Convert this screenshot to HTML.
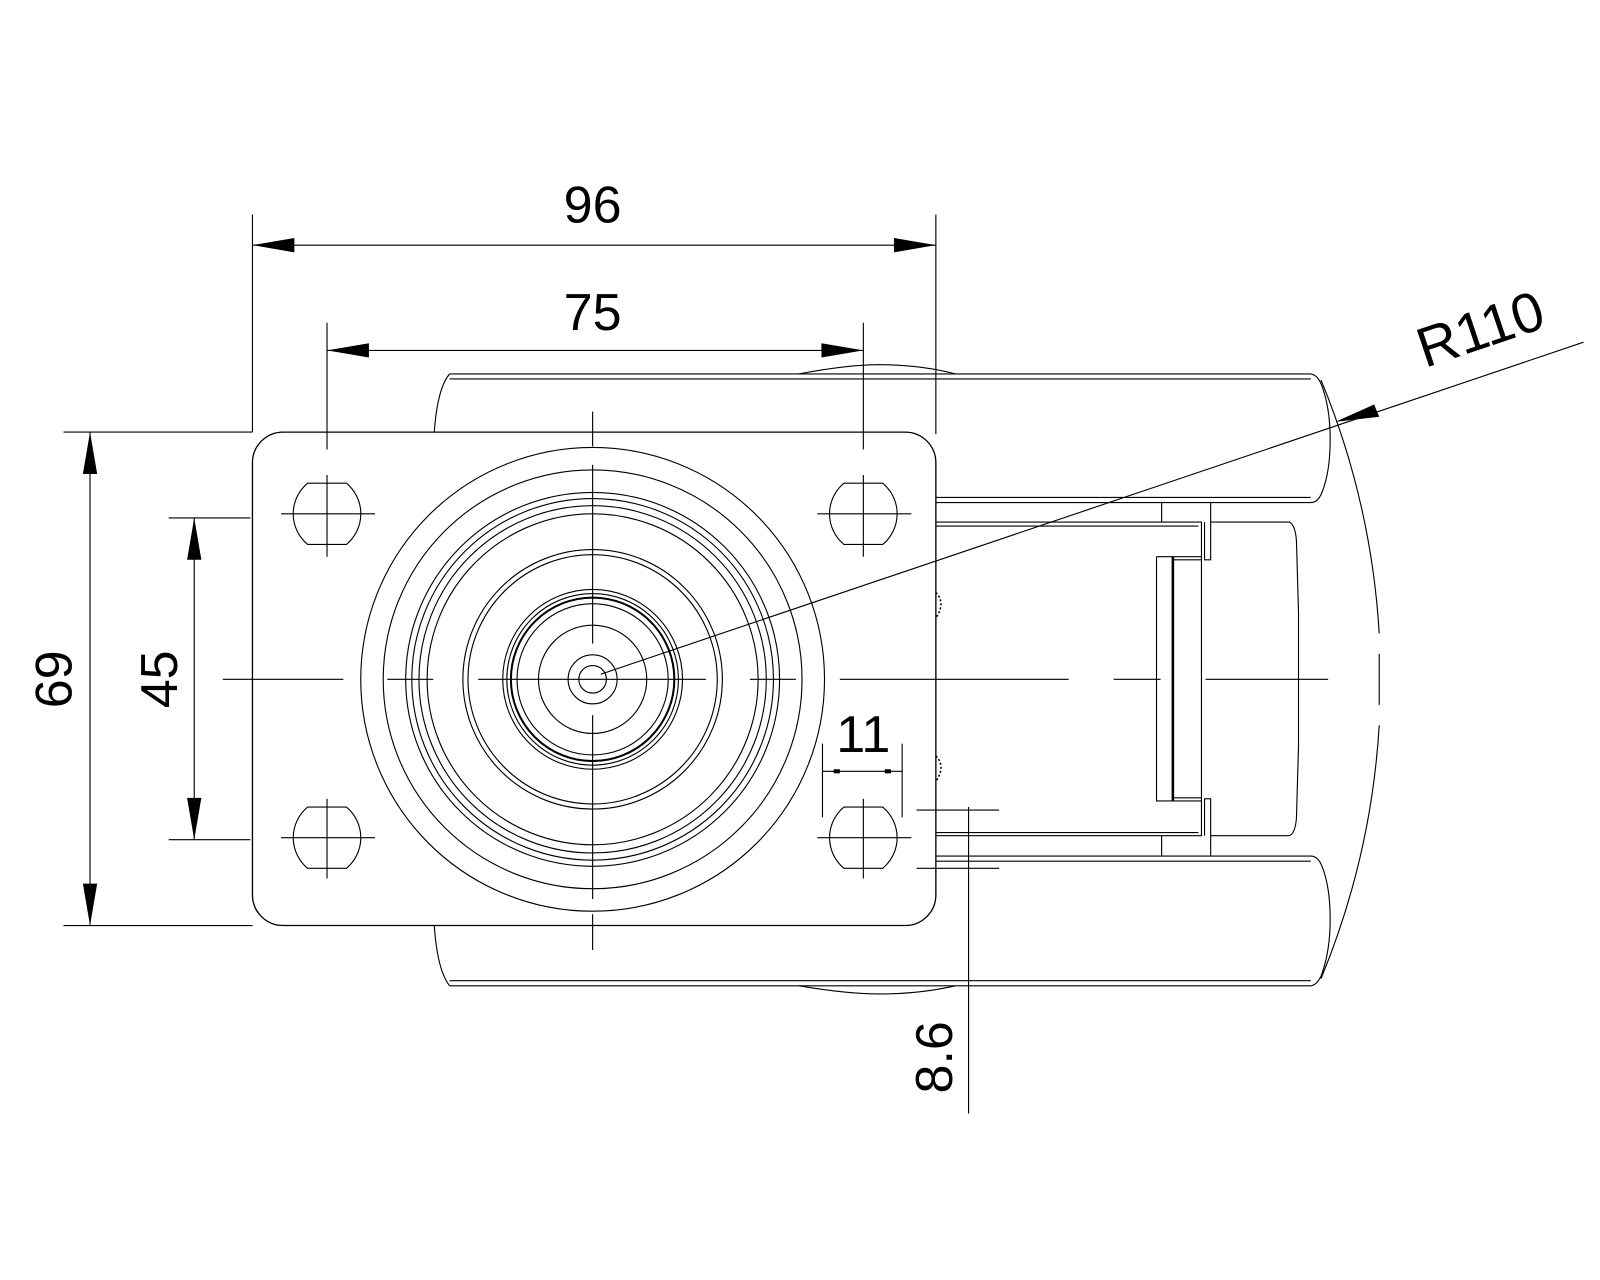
<!DOCTYPE html>
<html><head><meta charset="utf-8"><style>html,body{margin:0;padding:0;background:#fff}svg{display:block}</style></head>
<body>
<svg width="1600" height="1280" viewBox="0 0 1566 1253" xmlns="http://www.w3.org/2000/svg" fill="none" stroke="#000" stroke-width="1.1">
<rect width="1566" height="1253" fill="#fff" stroke="none"/>
<!-- wheel body top bar -->
<path d="M440,366 L1283,366 Q1290,367 1294,378 Q1302,400 1302,430 Q1302,462 1294,482 Q1290,492 1283,492 L916,492"/>
<path d="M440,371 L1283,371"/>
<path d="M916,487 L1283,487"/>
<path d="M440,366 Q428,380 425,423"/>
<path d="M782,366 Q830,357 860,357 Q900,357 935,366"/>
<!-- bottom bar -->
<path d="M440,965 L1283,965 Q1290,964 1294,953 Q1302,930 1302,900 Q1302,868 1294,848 Q1290,838 1283,838 L916,838"/>
<path d="M440,960 L1283,960"/>
<path d="M916,843 L1283,843"/>
<path d="M440,965 Q428,950 425,906"/>
<path d="M782,965 Q830,973 860,973 Q900,973 935,965"/>
<!-- inner fork -->
<path d="M916,511 L1176,511 L1176,818 L916,818"/>
<path d="M916,515 L1173,515 M916,815 L1173,815"/>
<path d="M1137,492 V511 M1185,492 V548 L1179,548 L1179,511 M1137,818 V838 M1185,838 V782 L1179,782 L1179,818"/>
<path d="M1185,511 L1262,511 Q1268,514 1269,530 L1271,600 L1271,730 L1269,800 Q1268,816 1262,818 L1185,818"/>
<path d="M1132,545 H1176 M1132,545 V784 H1176"/>
<path d="M1148,545 V784" stroke-width="2.5"/>
<path d="M1148,548 H1176 M1148,781 H1176"/>
<path d="M916,580 q10,10 0,25 M916,740 q10,10 0,25" stroke-dasharray="2 2" stroke-width="1.5"/>
<!-- R110 arc -->
<path d="M1293,372 A770,770 0 0 1 1350,620" />
<path d="M1350,640 V690"/>
<path d="M1350,710 A770,770 0 0 1 1293,958" />
<!-- plate -->
<rect x="247" y="423" width="669" height="483" rx="30" fill="#fff" stroke-width="1.3"/>
<!-- circles -->
<g>
<circle cx="580" cy="665" r="227"/><circle cx="580" cy="665" r="205"/>
<circle cx="580" cy="665" r="183"/><circle cx="580" cy="665" r="177"/>
<circle cx="580" cy="665" r="170"/><circle cx="580" cy="665" r="162"/>
<circle cx="580" cy="665" r="127"/><circle cx="580" cy="665" r="122"/>
<circle cx="580" cy="665" r="88"/><circle cx="580" cy="665" r="84"/>
<circle cx="580" cy="665" r="80" stroke-width="2"/><circle cx="580" cy="665" r="74"/>
<circle cx="580" cy="665" r="53"/><circle cx="580" cy="665" r="24"/>
<circle cx="580" cy="665" r="13.5"/>
</g>
<!-- holes -->
<g>
<path d="M301,473 H339 A39,39 0 0 1 339,533 H301 A39,39 0 0 1 301,473 Z"/>
<path d="M826,473 H864 A39,39 0 0 1 864,533 H826 A39,39 0 0 1 826,473 Z"/>
<path d="M301,790 H339 A39,39 0 0 1 339,850 H301 A39,39 0 0 1 301,790 Z"/>
<path d="M826,790 H864 A39,39 0 0 1 864,850 H826 A39,39 0 0 1 826,790 Z"/>
<path d="M320,465 V545 M275,503 H367 M845,465 V545 M800,503 H892 M320,782 V860 M275,820 H367 M845,782 V860 M800,820 H892"/>
</g>
<!-- centerlines -->
<path d="M218,665 H336 M379,665 H424 M468,665 H691 M734,665 H779 M822,665 H1046 M1090,665 H1136 M1180,665 H1300"/>
<path d="M580,403 V437 M580,455 V630 M580,700 V880 M580,895 V930"/>
<!-- dims -->
<g stroke-width="1.1">
<path d="M247,210 V423 M916,210 V425 M247,240 H916"/>
<path d="M320,316 V440 M845,316 V440 M320,343 H845"/>
<path d="M62,423 H247 M62,906 H247 M88,423 V906"/>
<path d="M165,507 H245 M165,822 H245 M190,507 V822"/>
<path d="M805,728 V800 M883,728 V800 M805,755 H883"/>
<path d="M897,793 H978 M897,850 H978 M948,790 V1090"/>
<path d="M588,660 L1550,335"/>
</g>
<g fill="#000" stroke="none">
<path d="M247,240 L288,233 L288,247 Z"/><path d="M916,240 L875,233 L875,247 Z"/>
<path d="M320,343 L361,336 L361,350 Z"/><path d="M845,343 L804,336 L804,350 Z"/>
<path d="M88,423 L81,464 L95,464 Z"/><path d="M88,906 L81,865 L95,865 Z"/>
<path d="M190,507 L183,548 L197,548 Z"/><path d="M190,822 L183,781 L197,781 Z"/>
<rect x="816" y="753" width="6" height="4"/><rect x="866" y="753" width="6" height="4"/>
<path d="M1307,413 L1345,396 L1350,408 Z"/>
</g>
<g fill="#000" stroke="none" font-family="Liberation Sans, sans-serif" font-size="51">
<text x="580" y="218" text-anchor="middle">96</text>
<text x="580" y="323" text-anchor="middle">75</text>
<text x="845" y="736" text-anchor="middle">11</text>
<text transform="translate(70,665) rotate(-90)" text-anchor="middle">69</text>
<text transform="translate(173,665) rotate(-90)" text-anchor="middle">45</text>
<text transform="translate(932,1035) rotate(-90)" text-anchor="middle">8.6</text>
<text transform="translate(1455,340) rotate(-18.6)" text-anchor="middle" font-size="55">R110</text>
</g>
</svg>
</body></html>
